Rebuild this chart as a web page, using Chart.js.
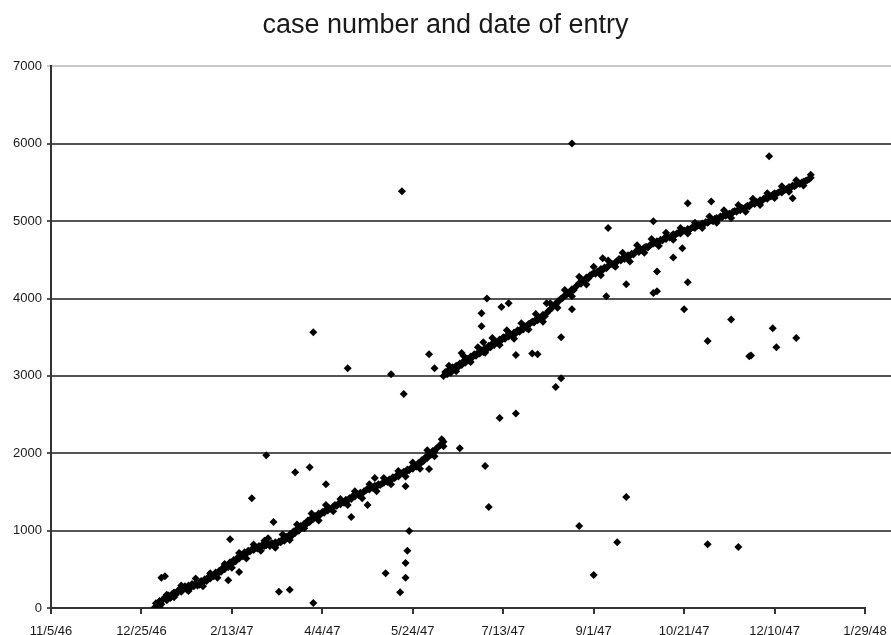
<!DOCTYPE html>
<html>
<head>
<meta charset="utf-8">
<title>case number and date of entry</title>
<script src="https://cdn.jsdelivr.net/npm/chart.js@4.4.1/dist/chart.umd.min.js"></script>
<style>
  html, body { margin: 0; padding: 0; background: #fff; }
</style>
</head>
<body>
<canvas id="myChart" width="891" height="635"></canvas>
<script>
// x values are days counted from 11/5/46, y values are case numbers
const xTickLabels = ['11/5/46', '12/25/46', '2/13/47', '4/4/47', '5/24/47', '7/13/47', '9/1/47', '10/21/47', '12/10/47', '1/29/48'];
const yTickLabels = ['0', '1000', '2000', '3000', '4000', '5000', '6000', '7000'];

// first run of entries (Jan - Jun 1947)
const earlyDays = [
  57, 58, 59, 60, 61, 62, 63, 64, 65, 66,
  67, 68, 69, 70, 71, 72, 73, 74, 75, 76,
  77, 78, 79, 80, 81, 82, 83, 84, 85, 86,
  87, 88, 89, 90, 91, 92, 93, 94, 95, 96,
  97, 98, 99, 100, 101, 102, 103, 104, 105, 106,
  107, 108, 109, 110, 111, 112, 113, 114, 115, 116,
  117, 118, 119, 120, 121, 122, 123, 124, 125, 126,
  127, 128, 129, 130, 131, 132, 133, 134, 135, 136,
  137, 138, 139, 140, 141, 142, 143, 144, 145, 146,
  147, 148, 149, 150, 151, 152, 153, 154, 155, 156,
  157, 158, 159, 160, 161, 162, 163, 164, 165, 166,
  167, 168, 169, 170, 171, 172, 173, 174, 175, 176,
  177, 178, 179, 180, 181, 182, 183, 184, 185, 186,
  187, 188, 189, 190, 191, 192, 193, 194, 195, 196,
  197, 198, 199, 200, 201, 202, 203, 204, 205, 206,
  207, 208, 209, 210, 211, 212, 213, 214, 215, 216,
  217,
  // second pass of entries lying just off the run
  60, 64, 68, 72, 76, 80, 84, 88, 92, 96,
  100, 104, 108, 112, 116, 118, 120, 124, 128, 132,
  136, 140, 144, 148, 152, 156, 160, 164, 168, 172,
  176, 180, 184, 188, 192, 196, 200, 204, 208, 212,
  216
];
const earlyCases = [
  0, 60, 30, 90, 50, 110, 140, 100, 160, 130,
  180, 200, 170, 220, 240, 210, 250, 280, 240, 290,
  260, 310, 280, 320, 290, 300, 350, 330, 370, 350,
  400, 380, 420, 410, 460, 440, 480, 470, 520, 500,
  550, 530, 590, 570, 620, 600, 650, 640, 690, 670,
  720, 700, 740, 730, 760, 750, 780, 770, 800, 790,
  820, 800, 810, 830, 800, 840, 820, 850, 830, 860,
  850, 890, 870, 920, 900, 950, 930, 990, 970, 1020,
  1000, 1060, 1040, 1090, 1080, 1130, 1110, 1160, 1150, 1190,
  1180, 1220, 1210, 1240, 1230, 1270, 1260, 1290, 1280, 1310,
  1330, 1320, 1350, 1340, 1370, 1360, 1400, 1390, 1420, 1410,
  1450, 1440, 1470, 1460, 1490, 1480, 1510, 1520, 1540, 1530,
  1560, 1550, 1580, 1570, 1600, 1590, 1610, 1620, 1640, 1630,
  1660, 1650, 1690, 1680, 1710, 1700, 1730, 1740, 1760, 1750,
  1790, 1780, 1810, 1800, 1840, 1830, 1870, 1860, 1910, 1900,
  1950, 1940, 1990, 1980, 2030, 2020, 2060, 2080, 2100, 2130,
  2150,
  20, 170, 140, 290, 220, 380, 280, 450, 390, 570,
  520, 710, 640, 820, 740, 870, 900, 780, 950, 880,
  1080, 1030, 1220, 1130, 1330, 1250, 1410, 1330, 1510, 1420,
  1600, 1510, 1680, 1600, 1770, 1700, 1880, 1800, 2040, 1960,
  2180
];

// second run, numbering restarts near 3000
const lateDays = [
  217, 218, 219, 220, 221, 222, 223, 224, 225, 226,
  227, 228, 229, 230, 231, 232, 233, 234, 235, 236,
  237, 238, 239, 240, 241, 242, 243, 244, 245, 246,
  247, 248, 249, 250, 251, 252, 253, 254, 255, 256,
  257, 258, 259, 260, 261, 262, 263, 264, 265, 266,
  267, 268, 269, 270, 271, 272, 273, 274, 275, 276,
  277, 278, 279, 280, 281, 282, 283, 284, 285, 286,
  287, 288, 289, 290, 291, 292, 293, 294, 295, 296,
  297, 298, 299, 300, 301, 302, 303, 304, 305, 306,
  307, 308, 309, 310, 311, 312, 313, 314, 315, 316,
  317, 318, 319, 320, 321, 322, 323, 324, 325, 326,
  327, 328, 329, 330, 331, 332, 333, 334, 335, 336,
  337, 338, 339, 340, 341, 342, 343, 344, 345, 346,
  347, 348, 349, 350, 351, 352, 353, 354, 355, 356,
  357, 358, 359, 360, 361, 362, 363, 364, 365, 366,
  367, 368, 369, 370, 371, 372, 373, 374, 375, 376,
  377, 378, 379, 380, 381, 382, 383, 384, 385, 386,
  387, 388, 389, 390, 391, 392, 393, 394, 395, 396,
  397, 398, 399, 400, 401, 402, 403, 404, 405, 406,
  407, 408, 409, 410, 411, 412, 413, 414, 415, 416,
  417, 418, 419, 420,
  // second pass of entries lying just off the run
  220, 224, 228, 232, 236, 240, 244, 248, 252, 256,
  260, 264, 268, 272, 276, 280, 284, 288, 292, 296,
  300, 304, 308, 312, 316, 320, 324, 328, 332, 336,
  340, 344, 348, 352, 356, 360, 364, 368, 372, 376,
  380, 384, 388, 392, 396, 400, 404, 408, 412, 416,
  420
];
const lateCases = [
  3000, 3050, 3020, 3080, 3040, 3110, 3090, 3130, 3110, 3160,
  3140, 3190, 3170, 3220, 3200, 3250, 3240, 3280, 3260, 3300,
  3290, 3330, 3310, 3360, 3340, 3390, 3370, 3420, 3400, 3440,
  3430, 3470, 3460, 3500, 3480, 3520, 3510, 3540, 3530, 3560,
  3550, 3590, 3570, 3610, 3600, 3640, 3620, 3670, 3680, 3700,
  3690, 3730, 3720, 3750, 3740, 3790, 3770, 3810, 3840, 3860,
  3880, 3910, 3920, 3960, 3970, 4000, 4010, 4040, 4050, 4070,
  4080, 4120, 4110, 4150, 4170, 4200, 4190, 4230, 4240, 4270,
  4260, 4300, 4310, 4330, 4320, 4350, 4340, 4380, 4370, 4400,
  4390, 4420, 4440, 4450, 4430, 4470, 4480, 4510, 4490, 4520,
  4510, 4540, 4560, 4550, 4580, 4570, 4600, 4620, 4600, 4640,
  4630, 4660, 4670, 4660, 4690, 4700, 4710, 4720, 4740, 4730,
  4760, 4750, 4780, 4770, 4800, 4790, 4810, 4830, 4820, 4840,
  4850, 4840, 4870, 4880, 4870, 4900, 4890, 4910, 4920, 4910,
  4940, 4950, 4940, 4970, 4960, 4990, 4980, 5000, 5010, 5000,
  5030, 5040, 5030, 5060, 5050, 5080, 5070, 5090, 5100, 5090,
  5120, 5130, 5120, 5150, 5140, 5170, 5160, 5180, 5200, 5190,
  5220, 5230, 5220, 5250, 5240, 5270, 5260, 5290, 5300, 5290,
  5330, 5320, 5340, 5360, 5350, 5370, 5380, 5370, 5400, 5410,
  5420, 5440, 5430, 5460, 5450, 5470, 5490, 5480, 5500, 5510,
  5520, 5530, 5540, 5560,
  3130, 3060, 3260, 3180, 3370, 3300, 3490, 3400, 3590, 3480,
  3680, 3600, 3800, 3700, 3940, 3880, 4110, 4030, 4280, 4180,
  4410, 4300, 4490, 4410, 4590, 4480, 4690, 4590, 4770, 4680,
  4850, 4760, 4910, 4840, 4980, 4910, 5060, 4980, 5140, 5040,
  5210, 5120, 5290, 5210, 5360, 5300, 5450, 5380, 5530, 5460,
  5600
];

// entries that sit away from either run
const strayDays = [
  61, 63, 98, 99, 104, 111, 119, 123, 126, 132,
  135, 143, 145, 145, 152, 164, 166, 175, 179, 185,
  188, 193, 194, 195, 196, 196, 196, 197, 198, 209,
  209, 212, 217, 226, 227, 238, 238, 239, 240, 241,
  242, 248, 249, 253, 257, 257, 266, 269, 274, 279,
  282, 282, 288, 288, 292, 300, 305, 307, 308, 313,
  318, 318, 333, 333, 335, 335, 344, 349, 350, 352,
  352, 363, 363, 365, 376, 380, 386, 387, 397, 399,
  401, 410, 412
];
const strayCases = [
  390, 410, 360, 890, 465, 1420, 1975, 1110, 210, 235,
  1755, 1820, 65, 3565, 1600, 3100, 1175, 1330, 1680, 450,
  3020, 205, 5385, 2765, 1575, 580, 390, 740, 995, 1795,
  3280, 3100, 2090, 2065, 3295, 3810, 3640, 3435, 1835, 4000,
  1305, 2455, 3890, 3940, 3270, 2515, 3290, 3280, 3940, 2855,
  3500, 2970, 6005, 3860, 1060, 425, 4520, 4030, 4910, 850,
  4185, 1435, 5000, 4070, 4350, 4095, 4530, 4650, 3860, 5230,
  4210, 3450, 825, 5255, 3730, 790, 3255, 3265, 5840, 3615,
  3370, 5295, 3490
];

function toPoints(days, cases) {
  return days.map((d, i) => ({ x: d, y: cases[i] }));
}

const dot = {
  pointStyle: 'rectRot',
  pointRadius: 4,
  pointBackgroundColor: '#000',
  pointBorderWidth: 0,
  showLine: false
};

const tickFont = { family: 'Liberation Sans', size: 13 };

// the horizontal rules run on past the last date tick to the edge of the page
const ruleRunOut = {
  id: 'ruleRunOut',
  beforeDatasetsDraw(chart) {
    const { ctx, chartArea, scales } = chart;
    ctx.save();
    ctx.lineWidth = 2;
    scales.y.ticks.forEach((t) => {
      if (t.value === 0) return;
      const y = Math.round(scales.y.getPixelForValue(t.value));
      ctx.strokeStyle = t.value === 7000 ? '#c8c8c8' : '#555';
      ctx.beginPath();
      ctx.moveTo(chartArea.right, y);
      ctx.lineTo(chart.width, y);
      ctx.stroke();
    });
    ctx.restore();
  }
};

const ctx = document.getElementById('myChart').getContext('2d');
new Chart(ctx, {
  type: 'scatter',
  data: {
    datasets: [
      { label: 'early', data: toPoints(earlyDays, earlyCases), ...dot },
      { label: 'late', data: toPoints(lateDays, lateCases), ...dot },
      { label: 'stray', data: toPoints(strayDays, strayCases), ...dot }
    ]
  },
  plugins: [ruleRunOut],
  options: {
    responsive: false,
    animation: false,
    layout: { padding: 0 },
    plugins: {
      legend: { display: false },
      tooltip: { enabled: false },
      title: {
        display: true,
        text: 'case number and date of entry',
        color: '#1a1a1a',
        font: { family: 'Liberation Sans', size: 27, weight: 'normal' },
        padding: { top: 9, bottom: 25 }
      }
    },
    scales: {
      x: {
        type: 'linear',
        min: 0,
        max: 450,
        afterFit: (scale) => {
          scale.height = 27;
          scale.paddingRight = 26;
          scale.paddingLeft = 0;
        },
        ticks: {
          stepSize: 50,
          autoSkip: false,
          maxRotation: 0,
          padding: 10,
          color: '#1a1a1a',
          font: tickFont,
          callback: (v) => xTickLabels[Math.round(v / 50)]
        },
        grid: { drawOnChartArea: false, tickLength: 6, color: '#333', lineWidth: 2 },
        border: { color: '#333', width: 2 }
      },
      y: {
        min: 0,
        max: 7000,
        afterFit: (scale) => { scale.width = 51; },
        ticks: {
          stepSize: 1000,
          padding: 5,
          color: '#1a1a1a',
          font: tickFont,
          callback: (v) => yTickLabels[Math.round(v / 1000)]
        },
        grid: {
          color: (c) => (c.tick && c.tick.value === 7000 ? '#c8c8c8' : '#555'),
          lineWidth: 2,
          tickLength: 4
        },
        border: { color: '#333', width: 2 }
      }
    }
  }
});
</script>
</body>
</html>
